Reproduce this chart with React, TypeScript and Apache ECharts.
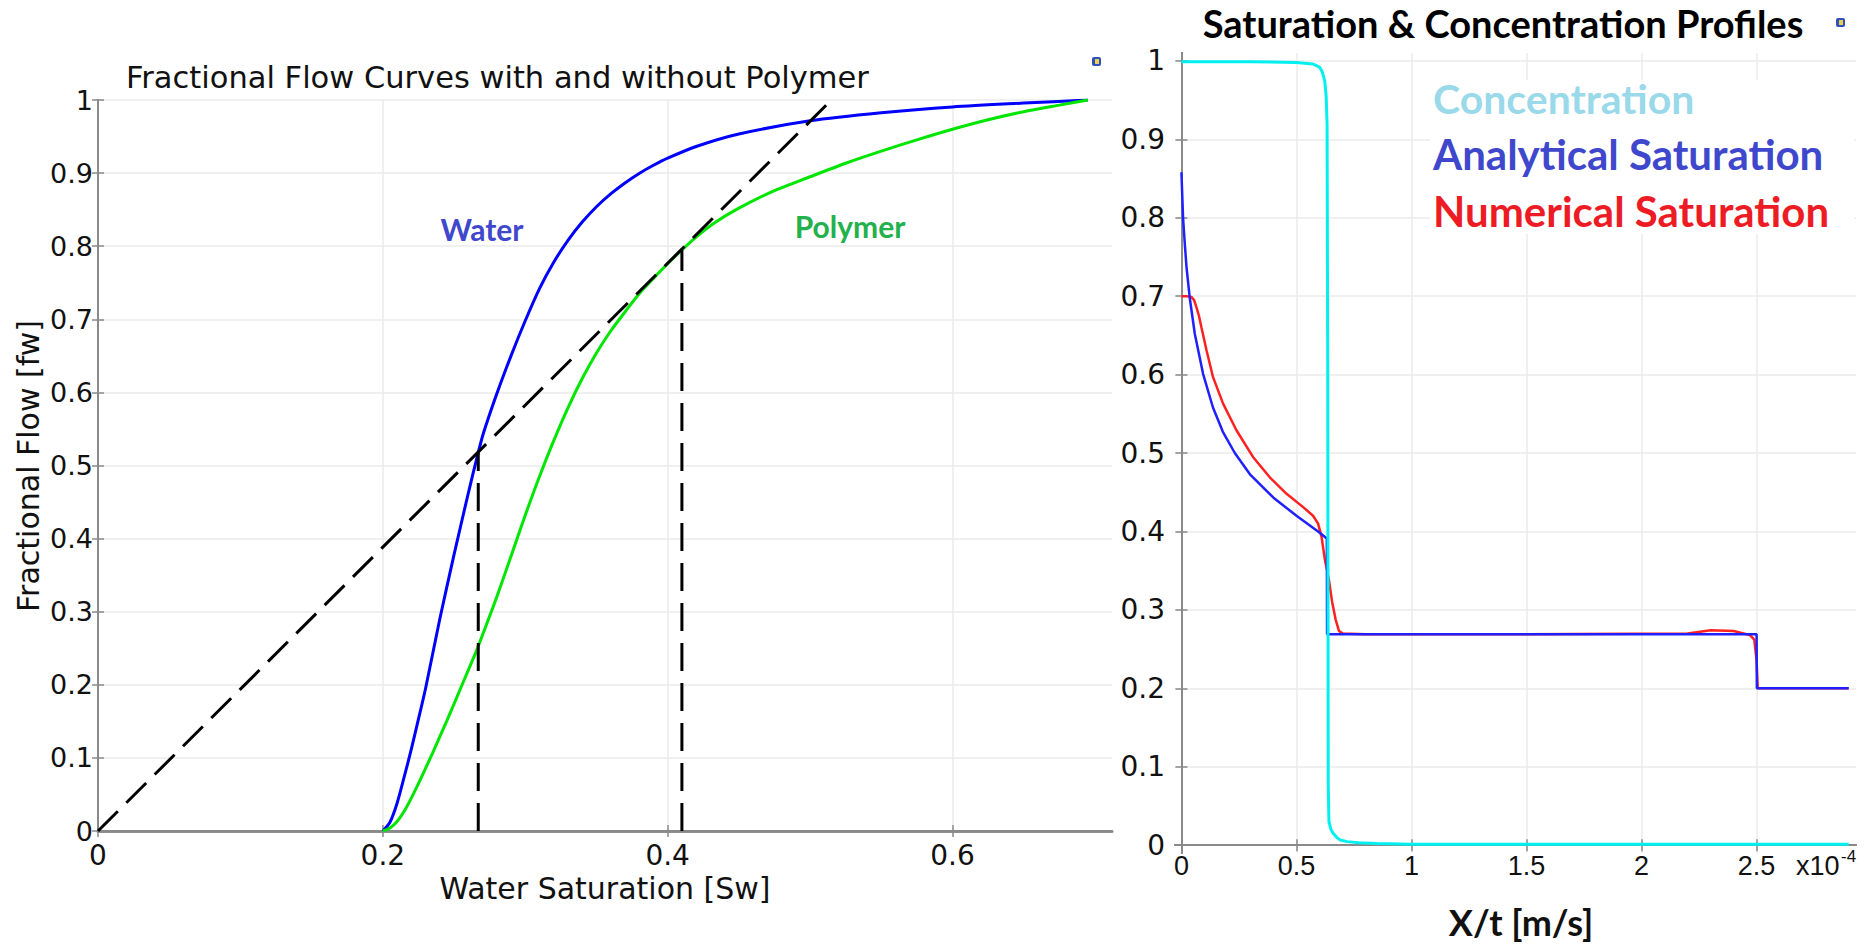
import React, { useEffect, useRef } from 'react';
import * as echarts from 'echarts';

// ---------- Left chart: fractional flow curves ----------
const waterSw = [0.2, 0.205, 0.21, 0.215, 0.22, 0.225, 0.23, 0.24, 0.25, 0.26, 0.266, 0.27, 0.275, 0.28, 0.29, 0.30, 0.31, 0.32, 0.33, 0.34, 0.35, 0.36, 0.37, 0.38, 0.39, 0.40, 0.42, 0.45, 0.50, 0.55, 0.60, 0.65, 0.695];
const waterFw = [0, 0.012, 0.038, 0.074, 0.112, 0.153, 0.195, 0.29, 0.378, 0.462, 0.51, 0.54, 0.57, 0.598, 0.65, 0.698, 0.742, 0.778, 0.808, 0.833, 0.854, 0.8715, 0.8865, 0.8995, 0.9107, 0.9204, 0.9364, 0.9535, 0.9715, 0.9825, 0.9905, 0.9958, 1.0];

const polySw = [0.2, 0.205, 0.21, 0.215, 0.22, 0.227, 0.235, 0.245, 0.255, 0.265, 0.27, 0.28, 0.29, 0.30, 0.31, 0.32, 0.33, 0.34, 0.35, 0.36, 0.37, 0.38, 0.39, 0.40, 0.41, 0.42, 0.433, 0.45, 0.475, 0.50, 0.525, 0.55, 0.575, 0.60, 0.625, 0.65, 0.675, 0.695];
const polyFw = [0, 0.004, 0.013, 0.027, 0.045, 0.073, 0.107, 0.151, 0.197, 0.243, 0.268, 0.32, 0.376, 0.432, 0.485, 0.534, 0.579, 0.619, 0.654, 0.684, 0.71, 0.735, 0.756, 0.776, 0.795, 0.8125, 0.832, 0.852, 0.876, 0.895, 0.9135, 0.93, 0.9455, 0.96, 0.973, 0.984, 0.993, 1.0];

const tangentSw = [0, 0.515];
const tangentFw = [0, 1];
const waterFrontSw = [0.267, 0.267];
const waterFrontFw = [0, 0.518];
const polyFrontSw = [0.41, 0.41];
const polyFrontFw = [0, 0.795];

const leftXTicks = [0, 0.2, 0.4, 0.6];

// ---------- Right chart: saturation & concentration profiles (x in 1e-4 m/s) ----------
const concX = [0, 0.3, 0.5, 0.57, 0.6, 0.612, 0.623, 0.629, 0.633, 0.636, 0.638, 0.641, 0.65, 0.66, 0.675, 0.69, 0.72, 0.77, 0.85, 1.0, 1.5, 2.0, 2.5, 2.9];
const concY = [0.999, 0.999, 0.998, 0.996, 0.992, 0.986, 0.974, 0.955, 0.92, 0.6, 0.08, 0.03, 0.02, 0.015, 0.01, 0.0065, 0.0045, 0.003, 0.002, 0.0013, 0.001, 0.001, 0.001, 0.001];

const anaX = [0, 0.007, 0.015, 0.022, 0.036, 0.058, 0.094, 0.137, 0.18, 0.232, 0.3, 0.4, 0.5, 0.594, 0.632, 0.633, 2.5, 2.501, 2.9];
const anaY = [0.858, 0.8, 0.765, 0.737, 0.698, 0.652, 0.601, 0.558, 0.527, 0.5, 0.472, 0.443, 0.42, 0.4, 0.391, 0.269, 0.269, 0.2, 0.2];

const numX = [0, 0.02, 0.043, 0.055, 0.065, 0.076, 0.087, 0.109, 0.137, 0.181, 0.239, 0.311, 0.384, 0.457, 0.529, 0.572, 0.594, 0.609, 0.623, 0.64, 0.655, 0.67, 0.685, 0.7, 0.8, 1.5, 2.2, 2.3, 2.4, 2.47, 2.49, 2.5, 2.505, 2.9];
const numY = [0.7, 0.7, 0.699, 0.695, 0.686, 0.675, 0.66, 0.631, 0.597, 0.563, 0.529, 0.495, 0.469, 0.448, 0.431, 0.42, 0.41, 0.393, 0.365, 0.34, 0.31, 0.288, 0.273, 0.27, 0.269, 0.269, 0.27, 0.274, 0.273, 0.268, 0.262, 0.235, 0.2, 0.2];

const rightXTicks = [0, 0.5, 1, 1.5, 2, 2.5];
const rightYTicks = [0, 0.1, 0.2, 0.3, 0.4, 0.5, 0.6, 0.7, 0.8, 0.9, 1];

const zip = (xs: number[], ys: number[]) => xs.map((x, i) => [x, ys[i]]);

const FRAME = '#8a8a8a';
const GRID = '#ebebeb';
const DEJAVU = 'DejaVu Sans';

function buildOption() {
  const frameAxis = {
    axisLine: { show: true, lineStyle: { color: FRAME, width: 2 } },
    axisTick: { show: true, inside: true, length: 6, lineStyle: { color: FRAME, width: 1.5 } },
  };
  const dashed = { color: '#000', width: 3, type: [28, 12] };
  return {
    animation: false,
    backgroundColor: '#ffffff',
    textStyle: { fontFamily: DEJAVU },
    grid: [
      { left: 98, top: 100, width: 1014, height: 731 },
      { left: 1175, top: 53, width: 681, height: 800 },
    ],
    xAxis: [
      {
        type: 'value', gridIndex: 0, position: 'bottom', min: 0, max: 0.712,
        ...frameAxis,
        axisLine: { show: true, lineStyle: { color: '#8f8f8f', width: 3 } },
        axisTick: { ...frameAxis.axisTick, customValues: leftXTicks },
        axisLabel: { customValues: leftXTicks, fontSize: 28, fontFamily: DEJAVU, color: '#111', margin: 10 },
        splitLine: { show: true, lineStyle: { color: GRID, width: 1.5 } },
      },
      {
        type: 'value', gridIndex: 0, position: 'top', min: 0, max: 0.712,
        ...frameAxis,
        axisTick: { ...frameAxis.axisTick, customValues: leftXTicks },
        axisLabel: { show: false },
        splitLine: { show: false },
      },
      {
        type: 'value', gridIndex: 1, position: 'bottom', min: -0.028, max: 2.932,
        ...frameAxis,
        axisTick: { ...frameAxis.axisTick, customValues: rightXTicks },
        axisLabel: { customValues: rightXTicks, fontSize: 27, fontFamily: 'Liberation Sans', color: '#111', margin: -1 },
        splitLine: { show: true, lineStyle: { color: GRID, width: 1.5 } },
      },
      {
        type: 'value', gridIndex: 1, position: 'top', min: -0.028, max: 2.932,
        ...frameAxis,
        axisTick: { ...frameAxis.axisTick, customValues: rightXTicks },
        axisLabel: { show: false },
        splitLine: { show: false },
      },
    ],
    yAxis: [
      {
        type: 'value', gridIndex: 0, position: 'left', min: 0, max: 1, interval: 0.1,
        ...frameAxis,
        axisLabel: { fontSize: 27, fontFamily: DEJAVU, color: '#111', margin: 5 },
        splitLine: { show: true, lineStyle: { color: GRID, width: 1.5 } },
      },
      {
        type: 'value', gridIndex: 0, position: 'right', min: 0, max: 1, interval: 0.1,
        ...frameAxis,
        axisLabel: { show: false },
        splitLine: { show: false },
      },
      {
        type: 'value', gridIndex: 1, position: 'left', min: -0.01, max: 1.01,
        ...frameAxis,
        axisTick: { ...frameAxis.axisTick, customValues: rightYTicks },
        axisLabel: { customValues: rightYTicks, fontSize: 28, fontFamily: DEJAVU, color: '#111', margin: 10 },
        splitLine: { show: true, lineStyle: { color: GRID, width: 1.5 } },
      },
      {
        type: 'value', gridIndex: 1, position: 'right', min: -0.01, max: 1.01,
        ...frameAxis,
        axisTick: { ...frameAxis.axisTick, customValues: rightYTicks },
        axisLabel: { show: false },
        splitLine: { show: false },
      },
    ],
    series: [
      {
        name: 'Water', type: 'line', xAxisIndex: 0, yAxisIndex: 0, data: zip(waterSw, waterFw),
        showSymbol: false, smooth: 0.25,
        lineStyle: { color: '#0000ff', width: 3 },
      },
      {
        name: 'Polymer', type: 'line', xAxisIndex: 0, yAxisIndex: 0, data: zip(polySw, polyFw),
        showSymbol: false, smooth: 0.25,
        lineStyle: { color: '#00e600', width: 3 },
      },
      {
        name: 'Tangent', type: 'line', xAxisIndex: 0, yAxisIndex: 0, data: zip(tangentSw, tangentFw),
        showSymbol: false, lineStyle: dashed,
      },
      {
        name: 'WaterFront', type: 'line', xAxisIndex: 0, yAxisIndex: 0, data: zip(waterFrontSw, waterFrontFw),
        showSymbol: false, lineStyle: dashed,
      },
      {
        name: 'PolymerFront', type: 'line', xAxisIndex: 0, yAxisIndex: 0, data: zip(polyFrontSw, polyFrontFw),
        showSymbol: false, lineStyle: dashed,
      },
      {
        name: 'Numerical Saturation', type: 'line', xAxisIndex: 2, yAxisIndex: 2, data: zip(numX, numY),
        showSymbol: false, lineStyle: { color: '#ff2020', width: 2.5 },
      },
      {
        name: 'Analytical Saturation', type: 'line', xAxisIndex: 2, yAxisIndex: 2, data: zip(anaX, anaY),
        showSymbol: false, lineStyle: { color: '#2020ff', width: 2.5 },
      },
      {
        name: 'Concentration', type: 'line', xAxisIndex: 2, yAxisIndex: 2, data: zip(concX, concY),
        showSymbol: false, lineStyle: { color: '#00f0f0', width: 3 },
      },
    ],
    graphic: [
      { type: 'rect', z: 10, shape: { x: 1430, y: 80, width: 424, height: 154 }, style: { fill: '#ffffff' } },
      { type: 'text', z: 11, left: 126, top: 62, style: { text: 'Fractional Flow Curves with and without Polymer', font: `30.5px "${DEJAVU}"`, fill: '#111' } },
      { type: 'text', z: 11, x: 605, y: 888, style: { text: 'Water Saturation [Sw]', font: `30px "${DEJAVU}"`, fill: '#111', align: 'center', verticalAlign: 'middle' } },
      { type: 'text', z: 11, x: 28, y: 466, rotation: Math.PI / 2, style: { text: 'Fractional Flow [fw]', font: `30px "${DEJAVU}"`, fill: '#111', align: 'center', verticalAlign: 'middle' } },
      { type: 'text', z: 11, x: 482, y: 229, style: { text: 'Water', font: 'bold 30px Lato', fill: '#3f48cc', align: 'center', verticalAlign: 'middle' } },
      { type: 'text', z: 11, x: 850, y: 226, style: { text: 'Polymer', font: 'bold 30px Lato', fill: '#22b14c', align: 'center', verticalAlign: 'middle' } },
      { type: 'text', z: 11, x: 1503, y: 23, style: { text: 'Saturation & Concentration Profiles', font: 'bold 38px Lato', fill: '#000', align: 'center', verticalAlign: 'middle' } },
      { type: 'text', z: 11, x: 1433, y: 98, style: { text: 'Concentration', font: 'bold 41px Lato', fill: '#99d9ea', align: 'left', verticalAlign: 'middle' } },
      { type: 'text', z: 11, x: 1433, y: 154, style: { text: 'Analytical Saturation', font: 'bold 42px Lato', fill: '#3f48cc', align: 'left', verticalAlign: 'middle' } },
      { type: 'text', z: 11, x: 1433, y: 211, style: { text: 'Numerical Saturation', font: 'bold 42px Lato', fill: '#ed1c24', align: 'left', verticalAlign: 'middle' } },
      { type: 'text', z: 11, x: 1521, y: 922, style: { text: 'X/t [m/s]', font: 'bold 36px Lato', fill: '#111', align: 'center', verticalAlign: 'middle' } },
      { type: 'text', z: 11, x: 1796, y: 866, style: { text: 'x10', font: '27px "Liberation Sans"', fill: '#111', align: 'left', verticalAlign: 'middle' } },
      { type: 'text', z: 11, x: 1841, y: 856, style: { text: '-4', font: '17px "Liberation Sans"', fill: '#111', align: 'left', verticalAlign: 'middle' } },
      { type: 'rect', z: 11, shape: { x: 1092, y: 57, width: 9, height: 9, r: 2 }, style: { fill: '#3050c0' } },
      { type: 'rect', z: 11, shape: { x: 1095, y: 59, width: 4, height: 5 }, style: { fill: '#e8d048' } },
      { type: 'rect', z: 11, shape: { x: 1836, y: 18, width: 9, height: 9, r: 2 }, style: { fill: '#3050c0' } },
      { type: 'rect', z: 11, shape: { x: 1839, y: 20, width: 4, height: 5 }, style: { fill: '#e8d048' } },
    ],
  };
}

export default function App() {
  const ref = useRef<HTMLDivElement>(null);
  useEffect(() => {
    if (!ref.current) return;
    const chart = echarts.init(ref.current, null, { renderer: 'svg' });
    chart.setOption(buildOption() as any);
    return () => chart.dispose();
  }, []);
  return <div ref={ref} style={{ position: 'fixed', left: 0, top: 0, width: 1872, height: 946, background: '#fff' }} />;
}
